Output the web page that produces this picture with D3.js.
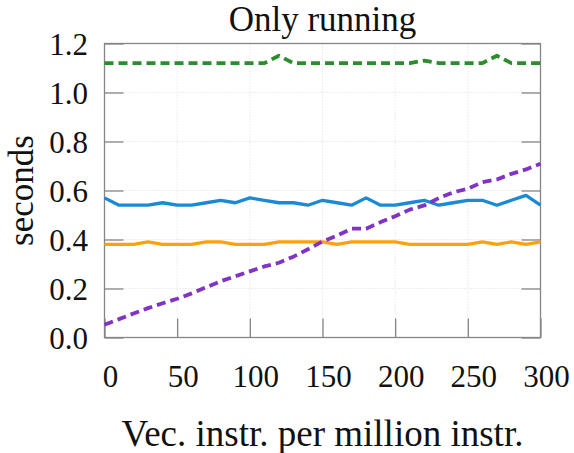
<!DOCTYPE html>
<html>
<head>
<meta charset="utf-8">
<script src="https://cdn.jsdelivr.net/npm/d3@7"></script>
<style>
    body { margin: 0; background: #fff; }
    svg { display: block; }
</style>
</head>
<body>
<div id="chart"></div>
<script>

// x positions (vec. instr. per million instr.)
var vecInstr = [0, 10, 20, 30, 40, 50, 60, 70, 80, 90, 100, 110, 120, 130, 140, 150,
    160, 170, 180, 190, 200, 210, 220, 230, 240, 250, 260, 270, 280, 290, 300];

// seconds
var blueSeries = [0.57, 0.54, 0.54, 0.54, 0.55, 0.54, 0.54, 0.55, 0.56, 0.55, 0.57, 0.56, 0.55, 0.55, 0.54, 0.56,
    0.55, 0.54, 0.57, 0.54, 0.54, 0.55, 0.56, 0.54, 0.55, 0.56, 0.56, 0.54, 0.56, 0.58, 0.54];
var orangeSeries = [0.38, 0.38, 0.38, 0.39, 0.38, 0.38, 0.38, 0.39, 0.39, 0.38, 0.38, 0.38, 0.39, 0.39, 0.39, 0.39,
    0.38, 0.39, 0.39, 0.39, 0.39, 0.38, 0.38, 0.38, 0.38, 0.38, 0.39, 0.38, 0.39, 0.38, 0.39];
var greenSeries = [1.12, 1.12, 1.12, 1.12, 1.12, 1.12, 1.12, 1.12, 1.12, 1.12, 1.12, 1.12, 1.15, 1.12, 1.12, 1.12,
    1.12, 1.12, 1.12, 1.12, 1.12, 1.12, 1.13, 1.12, 1.12, 1.12, 1.12, 1.15, 1.12, 1.12, 1.12];
var purpleSeries = [0.052, 0.075, 0.098, 0.12, 0.14, 0.158, 0.18, 0.205, 0.23, 0.25, 0.27, 0.29, 0.305, 0.33, 0.36, 0.392,
    0.416, 0.444, 0.444, 0.471, 0.495, 0.522, 0.539, 0.569, 0.593, 0.607, 0.634, 0.645, 0.668, 0.686, 0.709];

var xTicks = [0, 50, 100, 150, 200, 250, 300];
var yTicks = [0, 0.2, 0.4, 0.6, 0.8, 1.0, 1.2];

var titleText = "Only running";
var xLabel = "Vec. instr. per million instr.";
var yLabel = "seconds";

var CHART = {
    width: 574,
    height: 453,
    left: 104.5,
    right: 540.5,
    top: 43.5,
    bottom: 337.5,
    tickLen: 19,
    font: "'Liberation Serif', 'DejaVu Serif', serif"
};

var series = [
    { values: blueSeries,   color: "#1a8ad4", width: 3.3, dash: null },
    { values: orangeSeries, color: "#ffa10a", width: 3.3, dash: null },
    { values: greenSeries,  color: "#2e8b2e", width: 3.8, dash: "9,5" },
    { values: purpleSeries, color: "#8133c4", width: 3.8, dash: "9,5" }
];

function drawChart() {

    var svg = d3.select("#chart").append("svg")
        .attr("width", CHART.width)
        .attr("height", CHART.height)
        .attr("font-family", CHART.font);

    var x = d3.scaleLinear().domain([0, 300]).range([CHART.left, CHART.right]);
    var y = d3.scaleLinear().domain([0, 1.2]).range([CHART.bottom, CHART.top]);

    // dotted grid
    var grid = svg.append("g").attr("class", "grid");
    grid.selectAll("line.gx")
        .data(xTicks.slice(1, -1))
        .enter().append("line")
        .attr("x1", d => x(d)).attr("x2", d => x(d))
        .attr("y1", CHART.top).attr("y2", CHART.bottom)
        .attr("stroke", "#dcdcdc").attr("stroke-width", 1)
        .attr("stroke-dasharray", "1,2");
    grid.selectAll("line.gy")
        .data(yTicks.slice(1, -1))
        .enter().append("line")
        .attr("x1", CHART.left).attr("x2", CHART.right)
        .attr("y1", d => y(d)).attr("y2", d => y(d))
        .attr("stroke", "#dcdcdc").attr("stroke-width", 1)
        .attr("stroke-dasharray", "1,2");

    // inward ticks via d3 axes
    var axisLeft = d3.axisLeft(y).tickValues(yTicks).tickSize(-CHART.tickLen).tickFormat("");
    var axisRight = d3.axisRight(y).tickValues(yTicks).tickSize(-CHART.tickLen).tickFormat("");
    var axisBottom = d3.axisBottom(x).tickValues(xTicks).tickSize(-CHART.tickLen).tickFormat("");

    svg.append("g").attr("transform", "translate(" + CHART.left + ",0)").call(axisLeft);
    svg.append("g").attr("transform", "translate(" + CHART.right + ",0)").call(axisRight);
    svg.append("g").attr("transform", "translate(0," + CHART.bottom + ")").call(axisBottom);

    svg.selectAll(".domain").remove();
    svg.selectAll(".tick line").attr("stroke", "#858585").attr("stroke-width", 1.3);

    // frame
    svg.append("rect")
        .attr("x", CHART.left).attr("y", CHART.top)
        .attr("width", CHART.right - CHART.left)
        .attr("height", CHART.bottom - CHART.top)
        .attr("fill", "none")
        .attr("stroke", "#858585")
        .attr("stroke-width", 1.3);

    // data lines
    var line = d3.line()
        .x((d, i) => x(vecInstr[i]))
        .y(d => y(d));

    series.forEach(function(s) {
        svg.append("path")
            .datum(s.values)
            .attr("d", line)
            .attr("fill", "none")
            .attr("stroke", s.color)
            .attr("stroke-width", s.width)
            .attr("stroke-linejoin", "round")
            .attr("stroke-dasharray", s.dash);
    });

    // tick labels
    svg.selectAll("text.xt")
        .data(xTicks)
        .enter().append("text")
        .attr("class", "xt")
        .attr("x", d => x(d) + 6)
        .attr("y", 387)
        .attr("text-anchor", "middle")
        .attr("font-size", 31)
        .attr("fill", "#111")
        .text(d => d);

    svg.selectAll("text.yt")
        .data(yTicks)
        .enter().append("text")
        .attr("class", "yt")
        .attr("x", 88)
        .attr("y", d => y(d))
        .attr("dy", "0.36em")
        .attr("text-anchor", "end")
        .attr("font-size", 31)
        .attr("fill", "#111")
        .text(d => d.toFixed(1));

    // title and axis labels
    svg.append("text")
        .attr("x", (CHART.left + CHART.right) / 2)
        .attr("y", 31)
        .attr("text-anchor", "middle")
        .attr("font-size", 35)
        .attr("fill", "#111")
        .text(titleText);

    svg.append("text")
        .attr("x", (CHART.left + CHART.right) / 2)
        .attr("y", 446)
        .attr("text-anchor", "middle")
        .attr("font-size", 37)
        .attr("fill", "#111")
        .text(xLabel);

    svg.append("text")
        .attr("transform", "translate(33," + ((CHART.top + CHART.bottom) / 2) + ") rotate(-90)")
        .attr("text-anchor", "middle")
        .attr("font-size", 35)
        .attr("fill", "#111")
        .text(yLabel);
}

drawChart();

</script>
</body>
</html>
